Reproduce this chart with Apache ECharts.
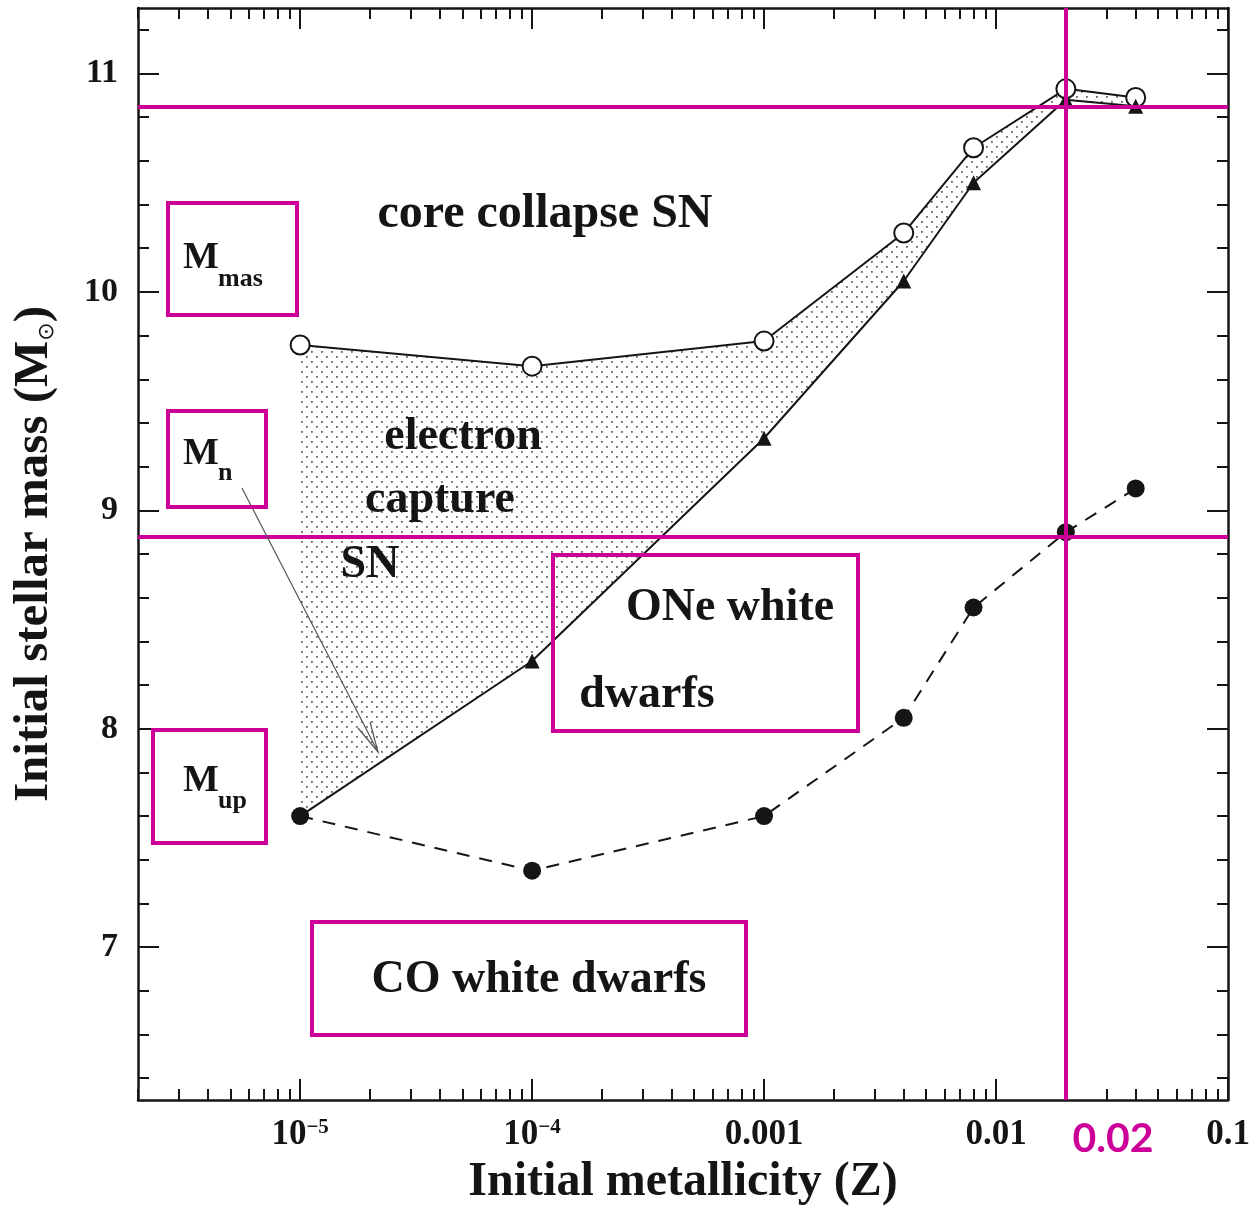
<!DOCTYPE html>
<html><head><meta charset="utf-8">
<script src="https://cdn.jsdelivr.net/npm/echarts@6/dist/echarts.min.js"></script>
<style>html,body{margin:0;padding:0;background:#fff}#c{width:1257px;height:1208px}</style>
</head><body><div id="c"></div>
<script>
// ---- data ----
const metallicity = [1e-5, 1e-4, 0.001, 0.004, 0.008, 0.02, 0.04];
const massMmas = [9.757, 9.66, 9.775, 10.27, 10.66, 10.93, 10.89];   // open circles
const massMn   = [7.60, 8.31, 9.33, 10.05, 10.50, 10.88, 10.85];     // triangles (starts at Mup point)
const massMup  = [7.60, 7.35, 7.60, 8.05, 8.555, 8.90, 9.10];        // filled circles, dashed
const refMassLines = [10.845, 8.875];
const refMetallicity = [0.02];
const xMajorTicks = [1e-5, 1e-4, 1e-3, 1e-2, 1e-1];
const xTickLabels = ['10{sup|−5}', '10{sup|−4}', '0.001', '0.01', '0.1'];
const yMajorTicks = [7, 8, 9, 10, 11];
const zRange = [2e-6, 0.1];
const mRange = [6.3, 11.3];

const lg = Math.log10;
const xMinorTicks = [];
for (let n = -6; n <= -2; n++) for (let k = 2; k <= 9; k++) {
  const v = k * Math.pow(10, n);
  if (v >= zRange[0] && v <= zRange[1]) xMinorTicks.push(lg(v));
}
const yMinorTicks = [];
for (let i = 32; i <= 56; i++) { const v = i / 5; if (v > mRange[0] && v < mRange[1]) yMinorTicks.push(+v.toFixed(1)); }

const INK = '#151515', MAG = '#cc0099';
const SERIF = '"Liberation Serif", "DejaVu Serif", serif';

// dotted fill pattern
const pc = document.createElement('canvas'); pc.width = 10; pc.height = 10;
const pctx = pc.getContext('2d'); pctx.fillStyle = '#666';
pctx.fillRect(1, 1, 1.8, 1.8); pctx.fillRect(6, 6, 1.8, 1.8);

const pts = (ys) => metallicity.map((z, i) => [lg(z), ys[i]]);

const axLine = { show: true, onZero: false, lineStyle: { color: INK, width: 2.5 } };
function xAx(pos, ticks, len, withLabel) {
  const a = {
    type: 'value', position: pos, min: lg(zRange[0]), max: lg(zRange[1]),
    splitLine: { show: false },
    axisLine: withLabel !== null ? axLine : { show: false },
    axisTick: { show: true, inside: true, length: len, customValues: ticks, lineStyle: { color: INK, width: 2 } },
    axisLabel: { show: false }
  };
  if (withLabel) {
    a.axisLabel = {
      show: true, customValues: xMajorTicks.map(lg), margin: 17,
      showMinLabel: true, showMaxLabel: true,
      formatter: (v) => xTickLabels[Math.round(v) + 5],
      fontFamily: SERIF, fontWeight: 'bold', fontSize: 35, color: INK,
      rich: { sup: { fontFamily: SERIF, fontWeight: 'bold', fontSize: 21, color: INK, verticalAlign: 'top', padding: [0, 0, 15, 0] } }
    };
    a.name = 'Initial metallicity (Z)';
    a.nameLocation = 'middle';
    a.nameGap = 83;
    a.nameTextStyle = { fontFamily: SERIF, fontWeight: 'bold', fontSize: 48, color: INK, verticalAlign: 'middle' };
  }
  return a;
}
function yAx(pos, ticks, len, withLabel) {
  const a = {
    type: 'value', position: pos, min: mRange[0], max: mRange[1],
    splitLine: { show: false },
    axisLine: withLabel !== null ? axLine : { show: false },
    axisTick: { show: true, inside: true, length: len, customValues: ticks, lineStyle: { color: INK, width: 2 } },
    axisLabel: { show: false }
  };
  if (withLabel) {
    a.axisLabel = { show: true, customValues: yMajorTicks, margin: 20, fontFamily: SERIF, fontWeight: 'bold', fontSize: 34, color: INK };
    a.name = '{a|Initial stellar mass (M}{b|⊙}{a|)}';
    a.nameLocation = 'middle';
    a.nameGap = 104;
    a.nameRotate = 90;
    a.nameTextStyle = {
      verticalAlign: 'middle',
      rich: {
        a: { fontFamily: SERIF, fontWeight: 'bold', fontSize: 49, color: INK },
        b: { fontFamily: '"DejaVu Sans", sans-serif', fontSize: 22, color: INK, verticalAlign: 'bottom', padding: [18, 0, 0, 0] }
      }
    };
  }
  return a;
}

const chart = echarts.init(document.getElementById('c'), null, { renderer: 'canvas' });

const boxes = [
  [168, 203, 129, 112], [168, 411, 98, 96], [153, 730, 113, 113],
  [553, 555, 305, 176], [312, 922, 434, 113]
];
const texts = [
  ['core collapse SN', 545, 215, 48], ['electron', 463, 437, 46], ['capture', 440, 500, 46], ['SN', 370, 565, 46],
  ['ONe white', 730, 608, 46], ['dwarfs', 647, 695, 46], ['CO white dwarfs', 539, 980, 46]
];
const graphics = [];
boxes.forEach(b => graphics.push({ type: 'rect', z: 100, shape: { x: b[0], y: b[1], width: b[2], height: b[3] },
  style: { fill: 'none', stroke: MAG, lineWidth: 4 } }));
texts.forEach(t => graphics.push({ type: 'text', z: 100, style: { text: t[0], x: t[1], y: t[2], font: 'bold ' + t[3] + 'px ' + SERIF, fill: INK,
  align: 'center', verticalAlign: 'middle', textAlign: 'center', textVerticalAlign: 'middle' } }));
const mLabels = [['mas', 258, 279], ['n', 454, 473], ['up', 781, 801]];
mLabels.forEach(m => {
  graphics.push({ type: 'text', z: 100, style: { text: 'M', x: 183, y: m[1], font: 'bold 38px ' + SERIF, fill: INK,
    align: 'left', verticalAlign: 'middle', textAlign: 'left', textVerticalAlign: 'middle' } });
  graphics.push({ type: 'text', z: 100, style: { text: m[0], x: 218, y: m[2], font: 'bold 26px ' + SERIF, fill: INK,
    align: 'left', verticalAlign: 'middle', textAlign: 'left', textVerticalAlign: 'middle' } });
});
graphics.push({ type: 'text', z: 100, style: { text: '0.02', x: 1113, y: 1139, font: 'bold 41px Lato, "Open Sans", sans-serif', fill: MAG,
  align: 'center', verticalAlign: 'middle', textAlign: 'center', textVerticalAlign: 'middle' } });
// arrow from M_n box
graphics.push({ type: 'polyline', z: 90, shape: { points: [[242, 488], [378, 752]] }, style: { stroke: '#555', lineWidth: 1.2, fill: 'none' } });
graphics.push({ type: 'polyline', z: 90, shape: { points: [[358, 728], [378, 752], [370, 722]] }, style: { stroke: '#555', lineWidth: 1.2, fill: 'none' } });

chart.setOption({
  animation: false,
  backgroundColor: '#fff',
  grid: { left: 138, right: 29, top: 8, bottom: 108, containLabel: false, outerBoundsMode: 'none' },
  xAxis: [
    xAx('bottom', xMajorTicks.map(lg), 21, true),
    xAx('bottom', xMinorTicks, 11, null),
    xAx('top', xMajorTicks.map(lg), 21, false),
    xAx('top', xMinorTicks, 11, null)
  ],
  yAxis: [
    yAx('left', yMajorTicks, 21, true),
    yAx('left', yMinorTicks, 11, null),
    yAx('right', yMajorTicks, 21, false),
    yAx('right', yMinorTicks, 11, null)
  ],
  graphic: graphics,
  series: [
    {
      type: 'custom', z: 1, silent: true, data: [0],
      renderItem: (params, api) => {
        const up = pts(massMmas).map(p => api.coord(p));
        const lo = pts(massMn).map(p => api.coord(p)).reverse();
        return { type: 'polygon', shape: { points: up.concat(lo) },
          style: { fill: { image: pc, repeat: 'repeat' }, stroke: 'none' } };
      }
    },
    {
      type: 'line', z: 3, data: pts(massMmas), symbol: 'circle', symbolSize: 19,
      lineStyle: { color: INK, width: 2 }, itemStyle: { color: '#ffffff', borderColor: INK, borderWidth: 2 }
    },
    {
      type: 'line', z: 3, data: pts(massMn), symbol: (v, p) => p.dataIndex === 0 ? 'none' : 'triangle', symbolSize: 15,
      lineStyle: { color: INK, width: 2 }, itemStyle: { color: INK }
    },
    {
      type: 'line', z: 4, data: pts(massMup), symbol: 'circle', symbolSize: 18,
      lineStyle: { color: INK, width: 2, type: [13, 10] }, itemStyle: { color: INK }
    },
    {
      type: 'line', z: 10, data: [], silent: true,
      markLine: {
        silent: true, symbol: 'none', label: { show: false }, animation: false,
        lineStyle: { color: MAG, width: 4, type: 'solid' },
        data: refMassLines.map(m => ({ yAxis: m })).concat(refMetallicity.map(z => ({ xAxis: lg(z) })))
      }
    }
  ]
});
</script></body></html>
